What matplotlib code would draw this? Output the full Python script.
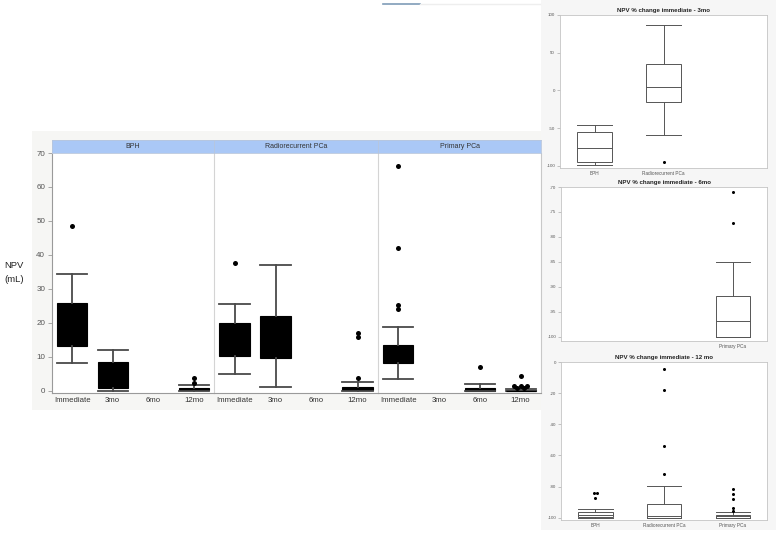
import numpy as np
import matplotlib
matplotlib.use("Agg")
import matplotlib.pyplot as plt
from matplotlib.patches import Rectangle
from matplotlib.lines import Line2D
from collections import Counter

plt.rcParams['font.family'] = ['Liberation Sans', 'DejaVu Sans']

# ---------------- data ----------------
timepoints = ["Immediate", "3mo", "6mo", "12mo"]
groups = ["BPH", "Radiorecurrent PCa", "Primary PCa"]
nan = np.nan

bph_whislo = [8.2, 0.0, nan, 0.0]
bph_q1 = [13.2, 0.9, nan, 0.2]
bph_med = [19.0, 3.5, nan, 0.6]
bph_q3 = [25.9, 8.5, nan, 0.9]
bph_whishi = [34.4, 12.0, nan, 1.7]
bph_fliers = [[48.5], [], [], [3.9, 2.2]]

rr_whislo = [5.0, 1.2, nan, 0.0]
rr_q1 = [10.3, 9.7, nan, 0.2]
rr_med = [15.0, 15.0, nan, 0.6]
rr_q3 = [20.0, 22.0, nan, 1.2]
rr_whishi = [25.6, 37.1, nan, 2.6]
rr_fliers = [[37.6], [], [], [17.1, 15.9, 3.8]]

pr_whislo = [3.6, nan, 0.0, 0.0]
pr_q1 = [8.3, nan, 0.1, 0.0]
pr_med = [11.0, nan, 0.5, 0.1]
pr_q3 = [13.6, nan, 1.0, 0.3]
pr_whishi = [18.8, nan, 2.1, 0.7]
pr_fliers = [[66.2, 42.0, 25.3, 24.1], [], [7.1], [4.4, 1.6, 1.6, 1.6, 0.8, 0.8]]

main_yticks = [0, 10, 20, 30, 40, 50, 60, 70]

# % change panels (categories BPH, Radiorecurrent PCa, Primary PCa)
pc_titles = ["NPV % change immediate - 3mo",
             "NPV % change immediate - 6mo",
             "NPV % change immediate - 12 mo"]
pc3_whislo = [-99.5, -58.8, nan]
pc3_q1 = [-94.6, -15.0, nan]
pc3_med = [-76.4, 4.5, nan]
pc3_q3 = [-54.8, 35.0, nan]
pc3_whishi = [-45.9, 86.7, nan]
pc3_fliers = [[], [-94.6], []]
pc3_yticks = [-100, -50, 0, 50, 100]

pc6_whislo = [nan, nan, -100.0]
pc6_q1 = [nan, nan, -100.0]
pc6_med = [nan, nan, -96.9]
pc6_q3 = [nan, nan, -91.9]
pc6_whishi = [nan, nan, -85.0]
pc6_fliers = [[], [], [-71.0, -77.2]]
pc6_yticks = [-100, -95, -90, -85, -80, -75, -70]

pc12_whislo = [-100.0, -100.0, -100.0]
pc12_q1 = [-99.3, -100.0, -100.0]
pc12_med = [-98.0, -99.0, -99.2]
pc12_q3 = [-96.4, -91.0, -98.3]
pc12_whishi = [-94.2, -79.6, -96.6]
pc12_fliers = [[-84.4, -84.4, -87.4], [-4.7, -18.2, -54.2, -71.8],
               [-81.3, -84.6, -88.0, -93.6, -95.7]]
pc12_yticks = [-100, -80, -60, -40, -20, 0]

# ---------------- layout helpers ----------------
W, H = 776, 537
fig = plt.figure(figsize=(W / 100, H / 100), dpi=100)
fig.patch.set_facecolor("white")


def pbox(x0, y0, x1, y1):
    return [x0 / W, 1 - y1 / H, (x1 - x0) / W, (y1 - y0) / H]


def frect(x0, y0, x1, y1, fc, ec="none", lw=0):
    fig.add_artist(Rectangle((x0 / W, 1 - y1 / H), (x1 - x0) / W, (y1 - y0) / H,
                             transform=fig.transFigure, facecolor=fc,
                             edgecolor=ec, linewidth=lw, zorder=0))


def make_stats(whislo, q1, med, q3, whishi):
    out = []
    for i in range(len(q1)):
        if np.isnan(q1[i]):
            out.append(None)
        else:
            out.append(dict(whislo=whislo[i], q1=q1[i], med=med[i], q3=q3[i],
                            whishi=whishi[i], fliers=[]))
    return out


def draw_fliers(ax, pos, vals, step, ms):
    counts = Counter(vals)
    seen = {}
    for v in vals:
        n = counts[v]
        k = seen.get(v, 0)
        seen[v] = k + 1
        ax.plot(pos + (k - (n - 1) / 2) * step, v, "o", color="black",
                markersize=ms, markeredgewidth=0, zorder=5)


# background regions
frect(32, 131, 541, 410, "#f6f6f4")
frect(541, 0, 776, 530, "#f6f6f6")
fig.add_artist(Line2D([383 / W, 420 / W], [1 - 4 / H, 1 - 4 / H],
                      transform=fig.transFigure, color="#7f9cb8", lw=1.2))
fig.add_artist(Line2D([420 / W, 540 / W], [1 - 4 / H, 1 - 4 / H],
                      transform=fig.transFigure, color="#eeeeee", lw=1.0))

# ---------------- main faceted chart ----------------
panel_px = [(52, 214), (214, 378), (378, 541)]
all_stats = [make_stats(bph_whislo, bph_q1, bph_med, bph_q3, bph_whishi),
             make_stats(rr_whislo, rr_q1, rr_med, rr_q3, rr_whishi),
             make_stats(pr_whislo, pr_q1, pr_med, pr_q3, pr_whishi)]
all_fliers = [bph_fliers, rr_fliers, pr_fliers]
positions = np.arange(len(timepoints)) + 0.5

for gi, (x0, x1) in enumerate(panel_px):
    ax = fig.add_axes(pbox(x0, 153, x1, 393))
    ax.set_facecolor("white")
    stats = all_stats[gi]
    st = [s for s in stats if s is not None]
    ps = [p for p, s in zip(positions, stats) if s is not None]
    ax.bxp(st, positions=ps, widths=0.74, capwidths=0.74, showfliers=False,
           patch_artist=True,
           boxprops=dict(facecolor="black", edgecolor="black", linewidth=0.8),
           medianprops=dict(color="black", linewidth=0.8),
           whiskerprops=dict(color="#4a4a4a", linewidth=1.3),
           capprops=dict(color="#4a4a4a", linewidth=1.3))
    for p, fl in zip(positions, all_fliers[gi]):
        draw_fliers(ax, p, fl, 0.16, 3.6)
    ax.set_xlim(0, len(timepoints))
    ax.set_ylim(-0.6, 70)
    ax.set_xticks(positions)
    ax.set_xticklabels(timepoints, fontsize=5.6, color="#333333")
    ax.tick_params(axis="x", length=0, pad=3)
    for s in ["top", "right"]:
        ax.spines[s].set_visible(False)
    ax.spines["bottom"].set_color("#9a9a9a")
    ax.spines["bottom"].set_linewidth(0.8)
    if gi == 0:
        ax.set_yticks(main_yticks)
        ax.set_yticklabels([str(t) for t in main_yticks], fontsize=5.8, color="#555555")
        ax.tick_params(axis="y", length=3, width=0.6, color="#9a9a9a", pad=2)
        ax.spines["left"].set_color("#9a9a9a")
        ax.spines["left"].set_linewidth(0.8)
    else:
        ax.set_yticks([])
        ax.spines["left"].set_color("#d4d4d4")
        ax.spines["left"].set_linewidth(0.8)
    if gi == len(panel_px) - 1:
        ax.spines["right"].set_visible(True)
        ax.spines["right"].set_color("#c8c8c8")
        ax.spines["right"].set_linewidth(0.8)
    # strip header
    sax = fig.add_axes(pbox(x0, 140, x1, 153))
    sax.set_facecolor("#aac8f6")
    sax.set_xticks([])
    sax.set_yticks([])
    for s in sax.spines.values():
        s.set_color("#b8c6dc")
        s.set_linewidth(0.6)
    sax.text(0.5, 0.5, groups[gi], transform=sax.transAxes, ha="center",
             va="center", fontsize=5.0, color="#333333")

fig.text(14 / W, 1 - 265 / H, "NPV", ha="center", va="center", fontsize=6.8, color="#222222")
fig.text(14 / W, 1 - 279 / H, "(mL)", ha="center", va="center", fontsize=6.8, color="#222222")

# ---------------- % change panels ----------------
pc_boxes = [(560, 15, 767, 168), (561, 187, 767, 341), (561, 362, 767, 520)]
pc_ylims = [(-103, 100), (-100.9, -70), (-101.5, 0)]
pc_stats = [make_stats(pc3_whislo, pc3_q1, pc3_med, pc3_q3, pc3_whishi),
            make_stats(pc6_whislo, pc6_q1, pc6_med, pc6_q3, pc6_whishi),
            make_stats(pc12_whislo, pc12_q1, pc12_med, pc12_q3, pc12_whishi)]
pc_fliers = [pc3_fliers, pc6_fliers, pc12_fliers]
pc_yticks = [pc3_yticks, pc6_yticks, pc12_yticks]
pc_pos = np.arange(len(groups)) + 0.5

for k, (x0, y0, x1, y1) in enumerate(pc_boxes):
    ax = fig.add_axes(pbox(x0, y0, x1, y1))
    ax.set_facecolor("white")
    stats = pc_stats[k]
    st = [s for s in stats if s is not None]
    ps = [p for p, s in zip(pc_pos, stats) if s is not None]
    ax.bxp(st, positions=ps, widths=0.5, capwidths=0.5, showfliers=False,
           patch_artist=True,
           boxprops=dict(facecolor="white", edgecolor="#555555", linewidth=0.7),
           medianprops=dict(color="#555555", linewidth=0.7),
           whiskerprops=dict(color="#555555", linewidth=0.7),
           capprops=dict(color="#555555", linewidth=0.7))
    for p, fl in zip(pc_pos, pc_fliers[k]):
        draw_fliers(ax, p, fl, 0.05, 2.2)
    ax.set_xlim(0, len(groups))
    ax.set_ylim(*pc_ylims[k])
    ax.set_yticks(pc_yticks[k])
    ax.set_yticklabels([str(t) for t in pc_yticks[k]], fontsize=3.2, color="#555555")
    ax.tick_params(axis="y", length=2, width=0.4, color="#999999", pad=1.5)
    ax.set_xticks(ps)
    ax.set_xticklabels([groups[int(p)] for p in ps], fontsize=3.4, color="#555555")
    ax.tick_params(axis="x", length=0, pad=2)
    for s in ax.spines.values():
        s.set_color("#c4c4c4")
        s.set_linewidth(0.6)
    ax.set_title(pc_titles[k], fontsize=4.4, fontweight="bold", color="#222222", pad=2)

fig.savefig("out.png", dpi=100, facecolor="white")
